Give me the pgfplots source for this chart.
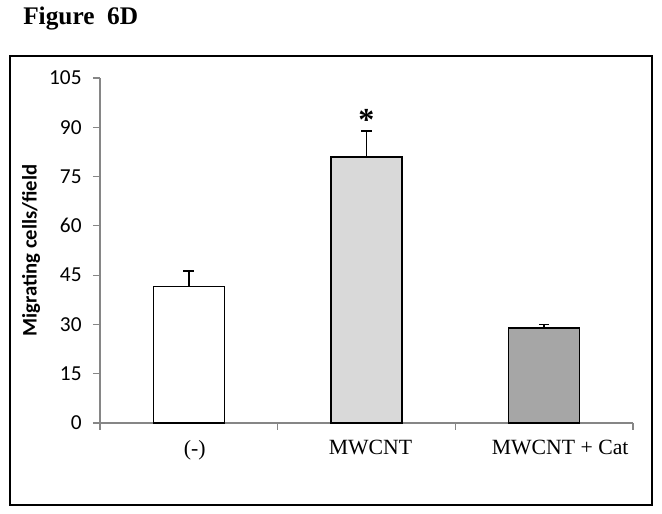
\documentclass[border=0pt]{standalone}
\usepackage{pgfplots}
\pgfplotsset{compat=1.18}
\usepackage{fontspec}
\setmainfont{Liberation Serif}
\setsansfont{Carlito}
\definecolor{axgray}{HTML}{868686}
\definecolor{barlight}{HTML}{D9D9D9}
\definecolor{bardark}{HTML}{A6A6A6}
\begin{document}
\begin{tikzpicture}[x=1pt,y=1pt]
\useasboundingbox (-75,-68.25) rectangle (421.5,317.25);
\draw[line width=1pt] (-67.5,-61.5) rectangle (414,275.25);
\node[anchor=base west, inner sep=0, font=\bfseries\fontsize{19}{19}\selectfont] at (-57.75,298.5) {Figure\ \ 6D};
\begin{axis}[
	at={(0,0)}, anchor=south west,
	width=399.75pt, height=258.75pt, scale only axis,
	xmin=0.5, xmax=3.5, ymin=0, ymax=105,
	axis x line*=bottom, axis y line*=left,
	axis line style={axgray, line width=0.8pt},
	tick align=outside,
	tick style={axgray, line width=0.8pt},
	major tick length=5.25pt, minor tick length=5pt,
	ytick={0,15,...,105},
	xtick={1,2,3},
	xticklabels={\hspace*{9pt}(-), \hspace*{6pt}MWCNT, \hspace*{24pt}MWCNT + Cat},
	minor xtick={0.5,1.5,2.5,3.5},
	major x tick style={draw=none},
	/pgf/number format/assume math mode=true,
	yticklabel style={font=\sffamily\fontsize{16}{16}\selectfont, xshift=-5pt},
	xticklabel style={font=\fontsize{16.3}{16.3}\selectfont, yshift=-4pt},
	ylabel={\sffamily\bfseries Migrating cells/field},
	ylabel style={font=\fontsize{15.5}{15.5}\selectfont, xshift=0pt},
	clip=false,
]
% (-)
\addplot[ybar, bar shift=0pt, bar width=53.25pt, fill=white, draw=black, line width=1.1pt,
	error bars/.cd, y dir=plus, y explicit,
	error bar style={line width=1.1pt, black},
	error mark options={rotate=90, mark size=4pt, line width=1.1pt, black}]
	coordinates {(1,41.5) +- (0,4.8)};
% MWCNT
\addplot[ybar, bar shift=0pt, bar width=53.25pt, fill=barlight, draw=black, line width=1.1pt,
	error bars/.cd, y dir=plus, y explicit,
	error bar style={line width=1.1pt, black},
	error mark options={rotate=90, mark size=4pt, line width=1.1pt, black}]
	coordinates {(2,81.0) +- (0,7.9)};
% MWCNT + Cat
\addplot[ybar, bar shift=0pt, bar width=53.25pt, fill=bardark, draw=black, line width=1.1pt,
	error bars/.cd, y dir=plus, y explicit,
	error bar style={line width=1.1pt, black},
	error mark options={rotate=90, mark size=4pt, line width=1.1pt, black}]
	coordinates {(3,28.9) +- (0,1.1)};
\node[font=\bfseries\fontsize{24}{24}\selectfont] at (axis cs:2,92.1) {*};
\end{axis}
\end{tikzpicture}
\end{document}
